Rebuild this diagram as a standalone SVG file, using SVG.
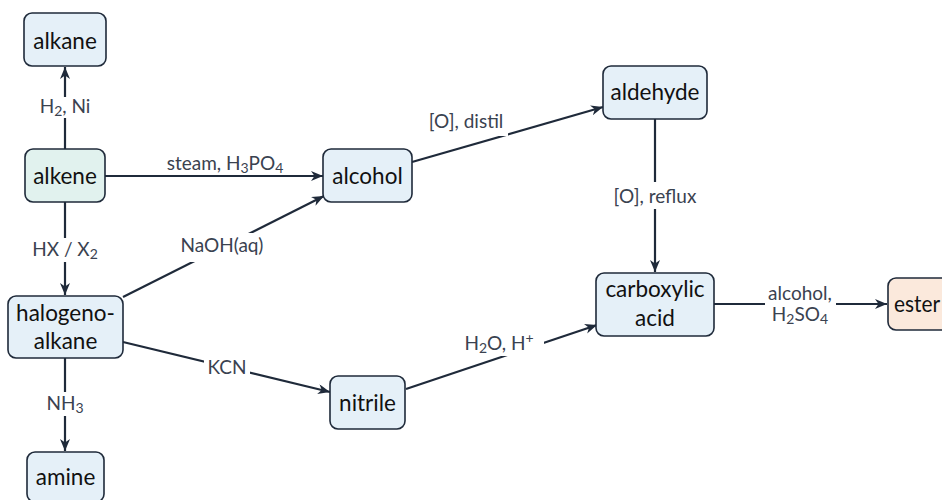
<svg xmlns="http://www.w3.org/2000/svg" width="942" height="500" viewBox="0 0 942 500">
<defs>
<marker id="ah" markerUnits="userSpaceOnUse" markerWidth="14" markerHeight="12" refX="12" refY="5" orient="auto">
<path d="M0,0 L12,5 L0,10 L3.5,5 z" fill="#1f2a3a"/>
</marker>
<style>
.node rect{stroke:#1f2a3a;stroke-width:1.6;fill:#e5f0f8}
.node text{font-family:Lato,"DejaVu Sans",sans-serif;font-size:22.5px;fill:#111;text-anchor:middle}
.edge{stroke:#1f2a3a;stroke-width:2.2;fill:none;marker-end:url(#ah)}
.lbl{font-family:Lato,"DejaVu Sans",sans-serif;font-size:19px;fill:#3a4250;text-anchor:middle}
.sub{font-size:14px}
.bg{fill:#fff}
</style>
</defs>
<rect width="942" height="500" fill="#fff"/>
<g id="connectors">
<line class="edge" x1="65" y1="149" x2="65" y2="67"/>
<line class="edge" x1="105" y1="176" x2="323" y2="176"/>
<line class="edge" x1="65" y1="202" x2="65" y2="295"/>
<line class="edge" x1="123" y1="297" x2="324" y2="196"/>
<line class="edge" x1="123" y1="342" x2="330" y2="392"/>
<line class="edge" x1="65" y1="358" x2="65" y2="451"/>
<line class="edge" x1="412" y1="162" x2="603" y2="107"/>
<line class="edge" x1="655" y1="119" x2="655" y2="272"/>
<line class="edge" x1="406" y1="389" x2="597" y2="325"/>
<line class="edge" x1="714" y1="304" x2="887" y2="304"/>
</g>
<g id="labels">
<rect class="bg" x="34" y="97" width="62" height="21"/>
<text class="lbl" x="65" y="113">H<tspan class="sub" dy="3">2</tspan><tspan dy="-3">, Ni</tspan></text>
<rect class="bg" x="160" y="154" width="130" height="19"/>
<text class="lbl" x="225" y="170">steam, H<tspan class="sub" dy="3">3</tspan><tspan dy="-3">PO</tspan><tspan class="sub" dy="3">4</tspan></text>
<rect class="bg" x="24" y="238" width="82" height="24"/>
<text class="lbl" x="65" y="256">HX / X<tspan class="sub" dy="3">2</tspan></text>
<rect class="bg" x="176" y="233" width="92" height="29"/>
<text class="lbl" x="222" y="252">NaOH(aq)</text>
<rect class="bg" x="204" y="357" width="46" height="22"/>
<text class="lbl" x="227" y="374">KCN</text>
<rect class="bg" x="42" y="392" width="46" height="24"/>
<text class="lbl" x="65" y="410">NH<tspan class="sub" dy="3">3</tspan></text>
<rect class="bg" x="424" y="108" width="84" height="28"/>
<text class="lbl" x="466" y="128">[O], distil</text>
<rect class="bg" x="610" y="182" width="90" height="27"/>
<text class="lbl" x="655" y="203">[O], reflux</text>
<rect class="bg" x="456" y="331" width="88" height="25"/>
<text class="lbl" x="499" y="350">H<tspan class="sub" dy="3">2</tspan><tspan dy="-3">O, H</tspan><tspan class="sub" dy="-7">+</tspan></text>
<rect class="bg" x="765" y="282" width="71" height="44"/>
<text class="lbl" x="800" y="300">alcohol,</text>
<text class="lbl" x="800" y="321">H<tspan class="sub" dy="3">2</tspan><tspan dy="-3">SO</tspan><tspan class="sub" dy="3">4</tspan></text>
</g>
<g id="alkane" class="node"><rect x="24" y="13" width="82" height="53" rx="8"/><text x="65" y="48.5">alkane</text></g>
<g id="alkene" class="node"><rect x="25" y="149" width="80" height="53" rx="8" style="fill:#e1f2ee"/><text x="65" y="184">alkene</text></g>
<g id="halogenoalkane" class="node"><rect x="8" y="296" width="115" height="62" rx="8"/><text x="65.5" y="321">halogeno-</text><text x="65.5" y="349">alkane</text></g>
<g id="amine" class="node"><rect x="27" y="452" width="77" height="50" rx="8"/><text x="65.5" y="485">amine</text></g>
<g id="alcohol" class="node"><rect x="323" y="149" width="89" height="53" rx="8"/><text x="367.5" y="184">alcohol</text></g>
<g id="nitrile" class="node"><rect x="330" y="376" width="75" height="53" rx="8"/><text x="367.5" y="411">nitrile</text></g>
<g id="aldehyde" class="node"><rect x="603" y="66" width="104" height="53" rx="8"/><text x="655" y="100">aldehyde</text></g>
<g id="carboxylic" class="node"><rect x="596" y="273" width="118" height="63" rx="8"/><text x="655" y="297">carboxylic</text><text x="655" y="326">acid</text></g>
<g id="ester" class="node"><rect x="888" y="278" width="70" height="52" rx="8" style="fill:#fbe9dc"/><text x="894" y="312" textLength="46" lengthAdjust="spacingAndGlyphs" style="text-anchor:start">ester</text></g>
</svg>
